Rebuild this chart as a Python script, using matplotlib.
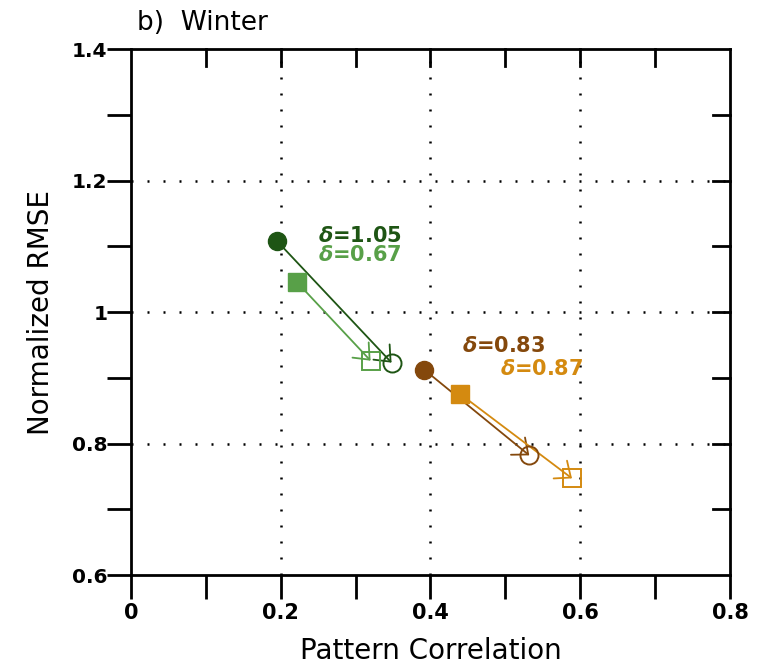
import matplotlib
matplotlib.use("Agg")
import matplotlib.pyplot as plt
from matplotlib.ticker import MultipleLocator, FixedLocator

# pattern correlation / normalized RMSE, start (filled) -> end (open)
groups = ["dark_green", "light_green", "brown", "orange"]
start_x = [0.195, 0.222, 0.392, 0.440]
start_y = [1.108, 1.045, 0.912, 0.875]
end_x = [0.348, 0.320, 0.532, 0.589]
end_y = [0.923, 0.926, 0.782, 0.747]
markers = ["o", "s", "o", "s"]
colors = ["#1e5514", "#58a048", "#84480c", "#d48a10"]
deltas = [1.05, 0.67, 0.83, 0.87]
delta_pos = [(0.250, 1.116), (0.250, 1.086), (0.442, 0.948), (0.493, 0.913)]

xticks = [0, 0.2, 0.4, 0.6, 0.8]
xticklabels = ["0", "0.2", "0.4", "0.6", "0.8"]
yticks = [0.6, 0.8, 1.0, 1.2, 1.4]
yticklabels = ["0.6", "0.8", "1", "1.2", "1.4"]

fig = plt.figure(figsize=(7.58, 6.66), dpi=100)
ax = fig.add_axes([0.1728, 0.1366, 0.7902, 0.7898])

# interior dotted grid
for gx in xticks[1:-1]:
    ax.axvline(gx, color="k", ls=(0, (0.8, 5.6)), lw=1.8, zorder=1)
for gy in yticks[1:-1]:
    ax.axhline(gy, color="k", ls=(0, (0.8, 5.6)), lw=1.8, zorder=1)

for i in range(len(groups)):
    c = colors[i]
    ax.annotate("", xy=(end_x[i], end_y[i]), xytext=(start_x[i], start_y[i]),
                arrowprops=dict(arrowstyle="->,head_length=0.95,head_width=0.8",
                                color=c, lw=1.3, shrinkA=0, shrinkB=0),
                zorder=3)
    ax.plot(start_x[i], start_y[i], marker=markers[i], color=c, ms=13,
            mec=c, ls="none", zorder=5)
    ax.plot(end_x[i], end_y[i], marker=markers[i], mfc="none", mec=c,
            ms=13, mew=1.4, ls="none", zorder=5)
    ax.text(delta_pos[i][0], delta_pos[i][1],
            r"$\boldsymbol{\delta}$=%.2f" % deltas[i],
            color=c, fontsize=15, fontweight="bold", ha="left", va="center")

ax.set_xlim(0, 0.8)
ax.set_ylim(0.6, 1.4)

ax.xaxis.set_major_locator(FixedLocator(xticks))
ax.xaxis.set_minor_locator(MultipleLocator(0.1))
ax.yaxis.set_major_locator(FixedLocator(yticks))
ax.yaxis.set_minor_locator(MultipleLocator(0.1))
ax.set_xticklabels(xticklabels)
ax.set_yticklabels(yticklabels)

# bottom/left ticks point outward, top/right point inward
ax.tick_params(which="both", bottom=True, left=True, top=False, right=False,
               direction="out", length=17, width=2, labelsize=15)
ax.tick_params(axis="x", pad=3)
ax.tick_params(axis="y", pad=0, labelsize=14.5)
for lab in ax.get_xticklabels() + ax.get_yticklabels():
    lab.set_fontweight("bold")
for t in [0.1, 0.2, 0.3, 0.4, 0.5, 0.6, 0.7]:
    ax.plot([t, t], [1.4, 1.4 - 0.8 * 17 / 526], color="k", lw=2,
            clip_on=False, zorder=6)
for t in [0.7, 0.8, 0.9, 1.0, 1.1, 1.2, 1.3]:
    ax.plot([0.8, 0.8 - 0.8 * 17 / 599], [t, t], color="k", lw=2,
            clip_on=False, zorder=6)

for s in ax.spines.values():
    s.set_linewidth(2)
    s.set_zorder(7)

ax.set_xlabel("Pattern Correlation", fontsize=20, labelpad=10)
ax.set_ylabel("Normalized RMSE", fontsize=20, labelpad=12)
ax.set_title("b)  Winter", loc="left", fontsize=19, pad=14, x=0.01)

fig.savefig("out.png", dpi=100)
